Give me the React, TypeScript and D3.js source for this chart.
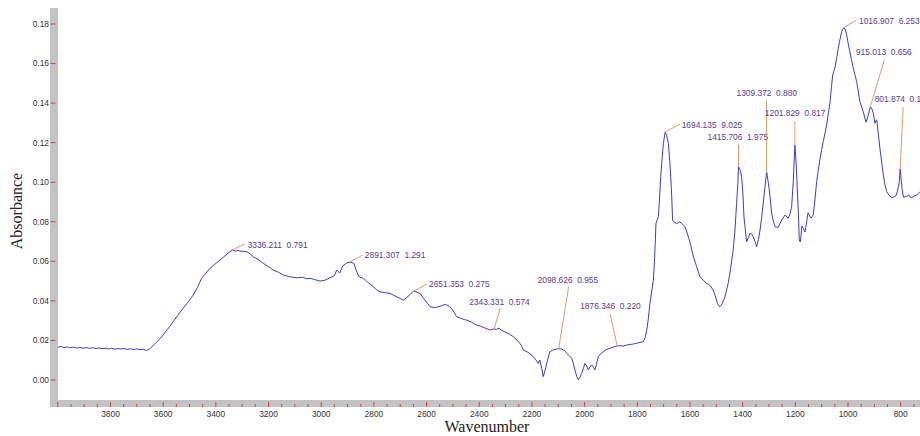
import React from 'react';
import * as d3 from 'd3';

// Spectrum (wavenumber cm-1, absorbance)
const wavenumbers = [
  4000, 3988, 3976, 3964, 3952, 3940, 3928, 3916, 3904, 3892, 3880, 3868, 3856, 3844, 3832, 3820, 3808, 3796, 3784, 3772,
  3760, 3748, 3736, 3724, 3712, 3700, 3688, 3676, 3664, 3652, 3640, 3628, 3616, 3600, 3585, 3570, 3562, 3545, 3524, 3505,
  3486, 3470, 3454, 3438, 3422, 3404, 3384, 3365, 3346, 3336, 3325, 3316, 3308, 3295, 3283, 3270, 3258, 3240, 3220, 3200,
  3182, 3163, 3144, 3120, 3093, 3070, 3055, 3042, 3025, 3005, 2985, 2967, 2950, 2941, 2930, 2918, 2905, 2891, 2876, 2866,
  2856, 2840, 2828, 2815, 2800, 2789, 2777, 2760, 2739, 2720, 2700, 2688, 2675, 2662, 2651, 2640, 2625, 2610, 2595, 2587,
  2570, 2562, 2545, 2535, 2524, 2513, 2505, 2495, 2486, 2470, 2455, 2448, 2430, 2410, 2395, 2380, 2360, 2343, 2334, 2325,
  2315, 2300, 2285, 2271, 2255, 2240, 2233, 2215, 2195, 2184, 2176, 2170, 2163, 2157, 2150, 2144, 2132, 2118, 2106, 2098,
  2087, 2075, 2068, 2058, 2049, 2042, 2037, 2030, 2024, 2017, 2011, 2004, 1999, 1992, 1986, 1980, 1973, 1967, 1961, 1955,
  1948, 1940, 1929, 1915, 1904, 1890, 1876, 1865, 1855, 1840, 1825, 1815, 1802, 1790, 1777, 1770, 1764, 1758, 1752, 1745,
  1739, 1734, 1729, 1724, 1720, 1715, 1711, 1706, 1701, 1694, 1688, 1682, 1677, 1673, 1669, 1666, 1658, 1650, 1640, 1631,
  1619, 1606, 1597, 1587, 1575, 1562, 1550, 1537, 1525, 1512, 1504, 1496, 1490, 1486, 1478, 1467, 1455, 1446, 1436, 1429,
  1423, 1418, 1415.7, 1409, 1404, 1399, 1395, 1390, 1385, 1378, 1372, 1366, 1360, 1353, 1347, 1340, 1334, 1328, 1322, 1315,
  1309, 1304, 1299, 1294, 1290, 1283, 1277, 1265, 1252, 1239, 1227, 1220, 1214, 1208, 1201.8, 1197, 1193, 1188, 1185, 1181,
  1175, 1169, 1163, 1157, 1152, 1146, 1140, 1132, 1125, 1119, 1113, 1106, 1100, 1094, 1087, 1081, 1075, 1068, 1063, 1058,
  1054, 1050, 1043, 1037, 1030, 1024, 1017, 1011, 1005, 999, 993, 986, 980, 974, 967, 961, 955, 948, 942, 937,
  932, 927, 923, 918, 915, 909, 904, 898, 894, 891, 885, 879, 872, 866, 860, 853, 845, 834, 828, 822,
  817, 813, 809, 805.4, 801.9, 798, 795, 791, 787.5, 783, 777, 770, 764, 758, 750, 739, 727, 715, 700,
];
const absorbance = [
  0.0166, 0.0169, 0.0164, 0.0167, 0.0163, 0.0166, 0.0162, 0.0164, 0.0161, 0.0164, 0.0160, 0.0163, 0.0159, 0.0162, 0.0158, 0.0161, 0.0157, 0.0160, 0.0156, 0.0159,
  0.0157, 0.0159, 0.0155, 0.0158, 0.0154, 0.0157, 0.0153, 0.0156, 0.0149, 0.0156, 0.0172, 0.0188, 0.0203, 0.0228, 0.0254, 0.0279, 0.0295, 0.0326, 0.0363, 0.0395,
  0.0430, 0.0468, 0.0514, 0.0540, 0.0565, 0.0585, 0.0607, 0.0628, 0.0649, 0.0658, 0.0652, 0.0655, 0.0652, 0.0650, 0.0649, 0.0638, 0.0623, 0.0610, 0.0590, 0.0573,
  0.0556, 0.0545, 0.0531, 0.0522, 0.0517, 0.0519, 0.0512, 0.0514, 0.0508, 0.0500, 0.0505, 0.0517, 0.0528, 0.0556, 0.0541, 0.0578, 0.0590, 0.0597, 0.0590, 0.0550,
  0.0522, 0.0514, 0.0500, 0.0485, 0.0470, 0.0455, 0.0446, 0.0442, 0.0438, 0.0425, 0.0412, 0.0404, 0.0418, 0.0432, 0.0448, 0.0446, 0.0438, 0.0410, 0.0385, 0.0371,
  0.0366, 0.0368, 0.0374, 0.0381, 0.0380, 0.0371, 0.0362, 0.0340, 0.0320, 0.0312, 0.0305, 0.0303, 0.0293, 0.0278, 0.0272, 0.0264, 0.0253, 0.0258, 0.0256, 0.0262,
  0.0250, 0.0242, 0.0232, 0.0219, 0.0200, 0.0175, 0.0152, 0.0140, 0.0118, 0.0100, 0.0084, 0.0101, 0.0060, 0.0017, 0.0050, 0.0084, 0.0143, 0.0153, 0.0157, 0.0158,
  0.0157, 0.0148, 0.0135, 0.0122, 0.0110, 0.0080, 0.0051, 0.0020, 0.0000, 0.0015, 0.0034, 0.0062, 0.0084, 0.0070, 0.0051, 0.0065, 0.0076, 0.0065, 0.0051, 0.0080,
  0.0118, 0.0132, 0.0143, 0.0155, 0.0160, 0.0167, 0.0172, 0.0174, 0.0171, 0.0177, 0.0180, 0.0182, 0.0186, 0.0190, 0.0194, 0.0215, 0.0253, 0.0310, 0.0388, 0.0450,
  0.0505, 0.0620, 0.0792, 0.0810, 0.0826, 0.0930, 0.1028, 0.1115, 0.1197, 0.1255, 0.1235, 0.1197, 0.1110, 0.1028, 0.0920, 0.0809, 0.0795, 0.0792, 0.0800, 0.0792,
  0.0775, 0.0725, 0.0680, 0.0623, 0.0575, 0.0522, 0.0505, 0.0489, 0.0480, 0.0455, 0.0425, 0.0388, 0.0375, 0.0371, 0.0385, 0.0421, 0.0489, 0.0560, 0.0657, 0.0760,
  0.0893, 0.1000, 0.1078, 0.1060, 0.1028, 0.0940, 0.0826, 0.0760, 0.0699, 0.0720, 0.0742, 0.0738, 0.0725, 0.0700, 0.0674, 0.0710, 0.0758, 0.0820, 0.0893, 0.0980,
  0.1053, 0.1010, 0.0961, 0.0900, 0.0843, 0.0800, 0.0775, 0.0772, 0.0809, 0.0834, 0.0818, 0.0840, 0.0876, 0.1000, 0.1188, 0.1100, 0.0977, 0.0830, 0.0708, 0.0698,
  0.0779, 0.0765, 0.0748, 0.0800, 0.0845, 0.0830, 0.0819, 0.0834, 0.0920, 0.1003, 0.1060, 0.1121, 0.1165, 0.1205, 0.1250, 0.1289, 0.1345, 0.1407, 0.1480, 0.1542,
  0.1560, 0.1576, 0.1630, 0.1677, 0.1725, 0.1761, 0.1781, 0.1775, 0.1744, 0.1700, 0.1660, 0.1615, 0.1576, 0.1545, 0.1508, 0.1460, 0.1407, 0.1380, 0.1357, 0.1330,
  0.1303, 0.1320, 0.1340, 0.1365, 0.1382, 0.1370, 0.1348, 0.1298, 0.1312, 0.1315, 0.1245, 0.1172, 0.1100, 0.1037, 0.0990, 0.0952, 0.0935, 0.0922, 0.0925, 0.0927,
  0.0935, 0.0952, 0.0975, 0.1003, 0.1067, 0.1010, 0.0969, 0.0935, 0.0922, 0.0930, 0.0927, 0.0935, 0.0925, 0.0922, 0.0930, 0.0935, 0.0952, 0.0960, 0.0958,
];

const yTickValues = [0, 0.02, 0.04, 0.06, 0.08, 0.1, 0.12, 0.14, 0.16, 0.18];
const xTickLabels = [3800, 3600, 3400, 3200, 3000, 2800, 2600, 2400, 2200, 2000, 1800, 1600, 1400, 1200, 1000, 800];

// Peak annotations
const peakWavenumbers = [3336.211, 2891.307, 2651.353, 2343.331, 2098.626, 1876.346, 1694.135, 1415.706, 1309.372, 1201.829, 1016.907, 915.013, 801.874];
const peakLabels = [
  '3336.211  0.791', '2891.307  1.291', '2651.353  0.275', '2343.331  0.574', '2098.626  0.955', '1876.346  0.220',
  '1694.135  9.025', '1415.706  1.975', '1309.372  0.880', '1201.829  0.817', '1016.907  6.253', '915.013  0.656', '801.874  0.186',
];
// label layout: leader end offset and text offset relative to the peak point (px)
const leaderEnds = [[12, -6], [13, -7], [14, -7.5], [6, -21], [10, -62], [-7, -32], [15, -8], [0, -22], [0, -72], [0, -24], [13, -8], [14, -47], [3, -62]];
const textPos = [[15, -2], [15, -3.5], [16, -4.5], [-25, -24], [-21, -66], [-37, -37.5], [16.5, -4.5], [-31, -26.5], [-30, -77], [-30, -29], [15.5, -4], [-14.5, -52], [-25.5, -67.5]];

const W = 920;
const H = 436;

export default function App() {
  const x = d3.scaleLinear().domain([4000, 650]).range([57.8, 940.2]);
  const y = d3.scaleLinear().domain([0, 0.18]).range([380, 24]);

  const pts: [number, number][] = wavenumbers.map((w, i) => [w, absorbance[i]]);
  const line = d3.line<[number, number]>().x(d => x(d[0])).y(d => y(d[1]));

  const interp = (w: number) => {
    for (let i = 0; i < wavenumbers.length - 1; i++) {
      const a = wavenumbers[i], b = wavenumbers[i + 1];
      if (w <= a && w >= b) {
        const t = (a - w) / (a - b);
        return absorbance[i] + t * (absorbance[i + 1] - absorbance[i]);
      }
    }
    return absorbance[absorbance.length - 1];
  };

  const ticks: number[] = d3.range(4000, 649, -50);

  const tickFont = '"Liberation Sans", Arial, sans-serif';
  const serif = '"Liberation Serif", "Times New Roman", serif';

  return (
    <svg width={W} height={H} style={{ position: 'absolute', left: 0, top: 0, background: '#fff' }}>
      <defs>
        <clipPath id="plotclip">
          <rect x={58} y={0} width={W - 58} height={400} />
        </clipPath>
      </defs>
      {/* axis bars */}
      <rect x={50} y={8} width={8} height={399} fill="#c3c3c3" />
      <rect x={50} y={400} width={W - 50} height={7} fill="#c3c3c3" />

      {/* y ticks */}
      {yTickValues.map(v => (
        <g key={'y' + v}>
          <line x1={50.5} x2={55.5} y1={y(v)} y2={y(v)} stroke="#e53b3b" strokeWidth={1} />
          <text x={49} y={y(v)} dy="0.35em" textAnchor="end" fontSize={8.4} fill="#333" fontFamily={tickFont}>
            {v.toFixed(2)}
          </text>
        </g>
      ))}

      {/* x ticks */}
      {ticks.map(t => {
        const major = t % 200 === 0;
        return (
          <line key={'xt' + t} x1={x(t)} x2={x(t)} y1={major ? 402 : 404} y2={407} stroke="#e53b3b" strokeWidth={1} />
        );
      })}
      {xTickLabels.map(t => (
        <text key={'xl' + t} x={x(t)} y={416.5} textAnchor="middle" fontSize={8.4} fill="#333" fontFamily={tickFont}>
          {t}
        </text>
      ))}

      {/* axis titles */}
      <text transform="translate(22,211) rotate(-90)" textAnchor="middle" fontSize={16} fill="#222" fontFamily={serif}>
        Absorbance
      </text>
      <text x={487} y={432} textAnchor="middle" fontSize={16} fill="#222" fontFamily={serif}>
        Wavenumber
      </text>

      {/* spectrum */}
      <path d={line(pts) || ''} fill="none" stroke="#3c3cc8" strokeWidth={1} clipPath="url(#plotclip)" />

      {/* peak annotations */}
      {peakWavenumbers.map((w, i) => {
        const px = x(w);
        const py = y(interp(w));
        return (
          <g key={'pk' + i}>
            <line x1={px} y1={py} x2={px + leaderEnds[i][0]} y2={py + leaderEnds[i][1]} stroke="#e59a6a" strokeWidth={1} />
            <text x={px + textPos[i][0]} y={py + textPos[i][1]} fontSize={8.4} fill="#5b3a8e" fontFamily={tickFont} style={{ whiteSpace: 'pre' }}>
              {peakLabels[i]}
            </text>
          </g>
        );
      })}
    </svg>
  );
}
